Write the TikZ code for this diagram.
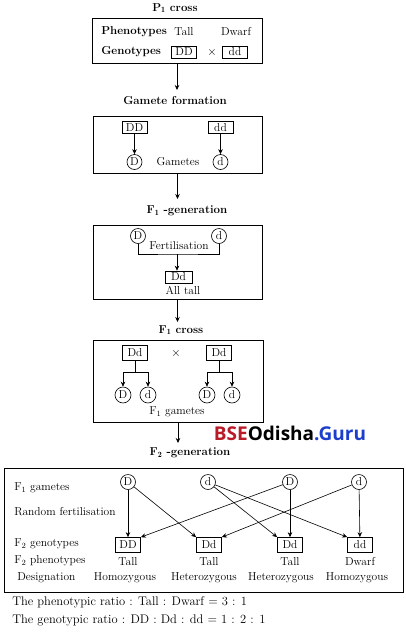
\documentclass[tikz,border=0pt]{standalone}
\usepackage{fontspec}
\newfontfamily\wmfont{Open Sans}
\usetikzlibrary{positioning,arrows.meta}
\definecolor{wmred}{RGB}{185,28,40}
\definecolor{wmblue}{RGB}{28,62,205}
\begin{document}
\begin{tikzpicture}[x=1pt, y=-1pt, line width=0.6pt, >={Stealth[length=5pt,width=4.5pt]}, font=\fontsize{11.5}{13}\selectfont,
  panel/.style = {draw, line width=0.8pt, inner sep=0pt},
  gen/.style = {draw, line width=0.7pt, inner sep=1pt, minimum width=25pt, minimum height=13pt},
  gam/.style = {draw, circle, line width=0.6pt, inner sep=0pt, minimum size=15pt},
  ttl/.style = {font=\fontsize{11.5}{13}\selectfont\bfseries},
  lbl/.style = {anchor=west, inner sep=0pt}]
\useasboundingbox (0,0) rectangle (406,638);

% P1 cross
\node[ttl] (p1) at (175,8) {P$_{\mathbf 1}$ cross};
\node[panel, minimum width=170pt, minimum height=45pt] (b1) at (177,40.5) {};
\node[ttl, lbl] (ph) at (101,32) {Phenotypes};
\node[ttl, lbl] (gt) at (101,52) {Genotypes};
\node (tall) at (184,32) {Tall};
\node (dwarf) at (236,32) {Dwarf};
\node[gen, minimum height=12pt] (DD) at (184,52) {DD};
\node (x1) at (212,52) {$\times$};
\node[gen, minimum height=12pt] (dd) at (235,52) {dd};

% gamete formation
\node[ttl] (gf) at (175,101) {Gamete formation};
\draw[->] (b1.south) -- (b1.south |- 0,90);
\node[panel, minimum width=169pt, minimum height=57pt] (b2) at (177.5,144.5) {};
\node[gen, minimum height=12pt] (DD2) at (134.5,127.5) {DD};
\node[gen, minimum height=12pt] (dd2) at (220.5,127.5) {dd};
\node[gam] (D2) at (134.5,162) {D};
\node[gam] (d2) at (220.5,162) {d};
\node (gm) at (178,162) {Gametes};
\draw[->] (DD2) -- (D2);
\draw[->] (dd2) -- (d2);

% F1 generation
\draw[->] (b2.south) -- (b2.south |- 0,199);
\node[ttl] (f1g) at (187,211) {F$_{\mathbf 1}$ -generation};
\node[panel, minimum width=169pt, minimum height=74pt] (b3) at (177.5,262) {};
\node[gam] (D3) at (138,236) {D};
\node[gam] (d3) at (219,236) {d};
\coordinate (fj) at (177,254);
\draw (D3.south) |- (fj) -| (d3.south);
\node (fe) at (179,246) {Fertilisation};
\node[gen, minimum width=27pt, minimum height=12pt] (Dd3) at (178.5,277) {Dd};
\draw[->] (fj) -- (fj |- Dd3.north);
\node (at) at (183,290.5) {All tall};

% F1 cross
\draw[->] (b3.south) -- (b3.south |- 0,322);
\node[ttl] (f1c) at (181,330) {F$_{\mathbf 1}$ cross};
\node[panel, minimum width=170pt, minimum height=82pt] (b4) at (178,381) {};
\node[gen, minimum height=15pt] (Dd4) at (135,353) {Dd};
\node[gen, minimum height=15pt] (Dd5) at (219,353) {Dd};
\node (x2) at (176,353) {$\times$};
\node[gam, minimum size=16pt] (D4) at (123,395) {D};
\node[gam, minimum size=16pt] (d4) at (148,395) {d};
\node[gam, minimum size=16pt] (D5) at (207,395) {D};
\node[gam, minimum size=16pt] (d5) at (232,395) {d};
\coordinate (k4) at (135,372);
\coordinate (k5) at (219,372);
\draw (Dd4) -- (k4);
\draw (Dd5) -- (k5);
\draw[->] (k4) -| (D4);
\draw[->] (k4) -| (d4);
\draw[->] (k5) -| (D5);
\draw[->] (k5) -| (d5);
\node (f1gm) at (177,412) {F$_1$ gametes};

% F2 generation
\draw[->] (b4.south) -- (b4.south |- 0,443);
\node[ttl] (f2g) at (190,453) {F$_{\mathbf 2}$ -generation};
\node (wm) at (290,433) {\wmfont\bfseries\fontsize{19}{22}\selectfont\color{wmred}BSE\color{black}Odisha\color{wmblue}.Guru};
\node[panel, minimum width=399pt, minimum height=124pt] (b5) at (203.5,530) {};
\node[lbl] (r1) at (14,488) {F$_1$ gametes};
\node[lbl] (r2) at (14,512) {Random fertilisation};
\node[lbl] (r3) at (14,544) {F$_2$ genotypes};
\node[lbl] (r4) at (14,561) {F$_2$ phenotypes};
\node[lbl] (r5) at (17,578) {Designation};
\node[gam] (g1) at (128,482) {D};
\node[gam] (g2) at (208,482) {d};
\node[gam] (g3) at (290,482) {D};
\node[gam] (g4) at (359,482) {d};
\node[gen, minimum height=15pt] (z1) at (128,545) {DD};
\node[gen, minimum height=15pt] (z2) at (209,545) {Dd};
\node[gen, minimum height=15pt] (z3) at (290,545) {Dd};
\node[gen, minimum height=15pt] (z4) at (360,545) {dd};
\node (t1) at (128,562) {Tall};
\node (t2) at (209,562) {Tall};
\node (t3) at (290,562) {Tall};
\node (t4) at (360,562) {Dwarf};
\node (h1) at (125,577.5) {Homozygous};
\node (h2) at (204,577.5) {Heterozygous};
\node (h3) at (281,577.5) {Heterozygous};
\node (h4) at (357,577.5) {Homozygous};
\draw[->] (g1) -- (z1);
\draw[->] (g1) -- (z2.north west);
\draw[->] (g2) -- (z3.north west);
\draw[->] (g2) -- (z4.north west);
\draw[->] (g3) -- (z1.north east);
\draw[->] (g3) -- (z3);
\draw[->] (g4) -- (z2.north east);
\draw[->] (g4) -- (z4);

% ratios
\node[lbl, font=\fontsize{12.5}{14}\selectfont] (pr) at (12,602) {The phenotypic ratio : Tall : Dwarf = 3 : 1};
\node[lbl, font=\fontsize{12.5}{14}\selectfont] (gr) at (12,620) {The genotypic ratio : DD : Dd : dd = 1 : 2 : 1};
\end{tikzpicture}
\end{document}
